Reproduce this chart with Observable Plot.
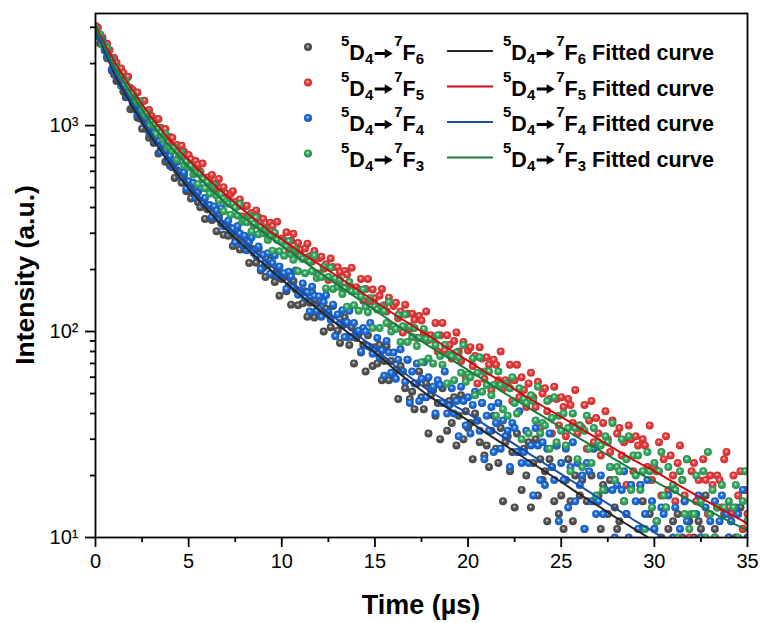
<!DOCTYPE html>
<html><head><meta charset="utf-8">
<script src="https://cdn.jsdelivr.net/npm/d3@7"></script>
<script src="https://cdn.jsdelivr.net/npm/@observablehq/plot@0.6"></script>
<style>body{margin:0;background:#fff} svg{display:block}</style>
</head><body><div id="chart"></div>
<script>
// sampling interval of the decay curves (µs)
const timeStep = 0.125;

// measured decay counts, one value every timeStep from t = 0 to 35 µs
const countsF6 = [2940,
2773,2505,2491,2324,2125,2127,1853,1771, 1646,1649,1621,1465,1373,1386,1200,1234,
1204,1094,1082,966,1040,963,873,898, 824,848,732,756,774,667,688,638,
628,557,606,577,527,576,480,480, 443,472,485,426,401,432,352,392,
394,348,357,307,364,335,295,325, 292,318,260,285,306,250,272,250,
252,215,252,241,216,254,198,204, 184,209,221,188,174,199,149,180,
184,157,167,135,176,160,134,157, 137,157,118,138,155,117,136,121,
124,100,129,121,105,133,95,101, 88,107,117,94,86,105,70,93,
97,79,86,64,96,84,68,84, 70,86,58,72,85,58,72,62,
65,47,68,64,53,73,47,51, 42,56,64,48,42,56,32,49,
52,39,45,30,53,45,33,46, 36,48,28,39,49,30,41,34,
36,24,40,37,29,45,25,28, 22,33,39,27,23,34,15,29,
31,21,26,14,32,26,17,27, 20,29,14,23,30,16,24,19,
21,12,24,22,15,28,13,16, 11,19,24,15,12,20,6,16,
19,11,15,6,20,15,9,16, 11,18,6,13,19,8,14,11,
12,5,15,13,8,18,6,9, 5,11,15,9,7,13,2,11,
12,7,10,3,14,11,6,12, 8,13,4,10,15,6,12,9,
10,4,12,11,7,16,6,8, 5,11,14,8,6,13,2,10,
12,7,10,3,14,11,6,12];

const countsF5 = [3040,
2990,2754,2673,2436,2494,2325,2135,2128, 2017,1849,1893,1801,1675,1724,1522,1488,
1430,1448,1288,1308,1320,1171,1189,1113, 1039,1069,1076,976,927,961,830,879,
873,798,804,721,798,749,683,719, 686,619,672,646,599,654,557,560,
544,576,494,525,551,473,502,468, 433,465,480,427,405,438,362,405,
408,365,376,328,387,359,321,352, 335,294,337,325,296,341,277,283,
277,303,250,276,298,246,269,249, 227,253,267,232,219,246,192,227,
231,202,212,178,226,206,180,205, 194,164,197,189,169,204,158,164,
159,180,141,161,180,140,160,145, 129,149,161,134,125,146,106,133,
138,116,125,99,135,122,103,122, 114,93,119,113,99,125,91,96,
93,110,80,96,110,81,96,86, 74,90,99,80,72,89,59,81,
84,68,76,56,84,74,59,75, 69,52,73,69,58,80,53,58,
56,69,46,58,69,48,60,52, 43,56,63,48,43,57,34,50,
53,41,47,32,54,47,35,48, 43,31,47,44,36,52,32,35,
34,44,27,37,46,29,38,32, 25,36,41,30,26,37,19,32,
34,25,29,18,35,30,21,31, 28,18,30,28,22,35,19,22,
21,29,16,24,31,17,25,20, 15,23,28,19,16,24,10,21,
23,15,19,10,24,19,13,20, 18,10,20,19,14,24,26,14,
13,20,9,16,21,11,17,13];

const countsF4 = [2930,
2725,2671,2581,2336,2175,2147,1877,1880, 1759,1758,1560,1563,1557,1378,1382,1284,
1249,1131,1179,1118,1031,1082,934,917, 925,839,836,743,814,755,682,711,
629,659,668,595,561,592,494,536, 501,527,448,475,497,420,445,412,
411,360,405,387,352,397,324,328, 345,306,316,271,325,299,264,292,
248,273,286,247,233,259,201,236, 217,240,191,215,234,187,207,189,
192,161,195,185,165,198,151,157, 171,146,155,125,165,149,126,148,
118,139,150,124,114,135,95,121, 110,127,94,111,126,94,110,98,
101,80,104,100,85,110,78,82, 93,75,81,61,90,79,63,79,
59,73,82,64,57,73,45,64, 56,70,46,59,71,48,60,52,
54,40,58,55,45,64,40,44, 53,40,46,31,54,46,35,48,
32,44,51,37,33,45,24,39, 33,43,26,36,45,27,37,31,
33,22,36,34,26,41,23,26, 33,23,28,16,34,28,19,29,
18,27,32,22,19,28,12,23, 19,27,14,22,29,15,23,18,
20,11,23,21,15,27,13,15, 20,13,17,8,22,17,10,18,
9,17,21,13,10,18,5,15, 11,18,7,13,19,9,15,11,
12,6,14,13,9,16,8,10, 14,9,11,5,15,12,7,13,
7,13,16,10,8,14,4,12, 9,15,6,12,16,8,13,10,
12,6,14,13,9,17,8,10];

const countsF3 = [2980,
2817,2767,2471,2434,2388,2125,2094,1941, 1914,1761,1730,1570,1649,1541,1413,1433,
1295,1319,1311,1191,1125,1153,998,1043, 1006,911,967,923,855,911,785,779,
754,785,683,713,738,641,668,625, 639,579,587,519,589,550,496,531,
467,499,514,456,433,466,384,428, 417,369,416,400,366,416,341,347,
339,367,306,333,358,297,323,300, 314,278,289,247,302,278,245,274,
233,260,274,237,223,251,196,231, 225,192,229,219,196,234,182,188,
184,206,162,184,204,161,181,165, 178,152,162,132,174,157,134,157,
126,148,160,132,124,145,104,132, 128,104,132,126,110,139,100,106,
103,120,89,106,121,89,106,94, 104,85,93,71,103,92,74,92,
70,86,96,76,69,86,56,77, 76,58,79,75,63,86,57,62,
60,74,49,63,75,51,64,55, 64,49,55,39,64,55,42,56,
39,53,60,45,40,53,30,47, 45,32,49,46,37,54,32,36,
35,46,27,38,48,29,39,33, 40,28,34,21,40,34,24,35,
22,33,39,27,23,34,16,29, 28,17,31,29,22,36,19,22,
21,30,15,24,31,17,25,20, 25,17,21,11,26,21,14,23,
12,21,26,16,14,22,8,18, 17,10,21,19,13,24,11,13,
13,20,8,15,21,10,26,13, 17,10,14,6,18,14,8,15,
7,14,18,10,8,15,21,12];

// fitted curves, read at whole microseconds
const fitTime = [0,1,2,3,4,5,6,7,8,9,10,11,12,13,14,15,16,17,18,19,20,21,22,23,24,25,26,27,28,29,30,31,32,33,34,35];
const fitF6 = [2950,1800,1230,880,650,495,390,314,258,214,179,150,127,108,92,79,66,56,48,42,37,32,28,24.4,21.3,18.6,16.2,14.2,12.4,10.9,9.6,8.5,7.5,6.6,5.8,5.1];
const fitF5 = [3050,2060,1480,1100,850,680,555,460,385,325,280,243,212,185,161,140,122,107,94,82,72,63,56,49,43.5,38.5,34,30,26.5,23.5,21,18.6,16.5,14.7,13.1,11.7];
const fitF4 = [2950,1850,1280,920,680,520,410,330,272,225,188,158,134,114,97,83,69,59,51,45,40,34.8,30.3,26.5,23.2,20.3,17.8,15.6,13.7,12,10.6,9.3,8.2,7.2,6.3,5.6];
const fitF3 = [3000,1950,1400,1030,790,630,510,420,355,303,260,225,194,168,146,127,110,96,84,74,65,57,50,44,38.8,34.2,30.2,26.7,23.6,20.9,18.8,16.8,15,13.4,12,10.8];

// axes
const xTicks = [0,5,10,15,20,25,30,35];
const xMinorTicks = [2.5,7.5,12.5,17.5,22.5,27.5,32.5];
const yTicks = [10,100,1000];
const yTickLabels = ["10¹","10²","10³"];
const yMinorTicks = [20,30,40,50,60,70,80,90,200,300,400,500,600,700,800,900,2000,3000];
const xTitle = "Time (µs)";
const yTitle = "Intensity (a.u.)";

const series = [
  {id:"F6", sub:"6", counts:countsF6, fit:fitF6, dot:"#555555", line:"#262626"},
  {id:"F5", sub:"5", counts:countsF5, fit:fitF5, dot:"#ee3b3b", line:"#cc0a12"},
  {id:"F4", sub:"4", counts:countsF4, fit:fitF4, dot:"#1c6ee0", line:"#1b4ea3"},
  {id:"F3", sub:"3", counts:countsF3, fit:fitF3, dot:"#35ad62", line:"#1b7a3a"}
];

const FONT = "'Liberation Sans', Arial, Helvetica, sans-serif";
const marks = [];
for (const s of series) {
  const pts = s.counts.map((v, i) => ({t: i * timeStep, v}));
  marks.push(Plot.dot(pts, {x:"t", y:"v", r:4, fill:`url(#g${s.id})`, stroke:"none", clip:true}));
}
for (const s of series) {
  const rows = fitTime.map((t, i) => ({t, v: s.fit[i]}));
  marks.push(Plot.line(rows, {x:"t", y:"v", stroke:s.line, strokeWidth:2, curve:"monotone-x", clip:true}));
}
marks.push(
  Plot.frame({stroke:"black", strokeWidth:1.8}),
  Plot.axisX({ticks:xTicks, tickSize:10, tickPadding:6, strokeWidth:1.8, fontSize:20, label:null}),
  Plot.axisX({ticks:xMinorTicks, tickSize:5, strokeWidth:1.8, tickFormat:() => "", label:null}),
  Plot.axisY({ticks:yTicks, tickSize:10, tickPadding:7, strokeWidth:1.8, fontSize:20, label:null,
    tickFormat:d => yTickLabels[yTicks.indexOf(d)]}),
  Plot.axisY({ticks:yMinorTicks, tickSize:5, strokeWidth:1.8, tickFormat:() => "", label:null})
);

const plot = Plot.plot({
  width:764, height:623,
  marginLeft:95, marginRight:17, marginTop:13, marginBottom:86,
  style:{fontFamily:FONT, fontSize:"20px", color:"black", background:"white"},
  x:{domain:[0,35]},
  y:{type:"log", domain:[10,3500]},
  marks
});
document.getElementById("chart").append(plot);

const svg = d3.select(plot);
const defs = svg.insert("defs", ":first-child");
for (const s of series) {
  const c = d3.color(s.dot);
  const g = defs.append("radialGradient").attr("id", `g${s.id}`)
    .attr("cx","50%").attr("cy","50%").attr("r","50%").attr("fx","45%").attr("fy","38%");
  g.append("stop").attr("offset","0%").attr("stop-color", "#ffffff");
  g.append("stop").attr("offset","18%").attr("stop-color", d3.interpolateRgb(s.dot, "#fff")(0.45));
  g.append("stop").attr("offset","45%").attr("stop-color", s.dot);
  g.append("stop").attr("offset","100%").attr("stop-color", c.darker(0.6).formatHex());
}

// axis titles
svg.append("text").attr("x", 421).attr("y", 614).attr("text-anchor","middle")
  .attr("font-family", FONT).attr("font-weight","bold").attr("font-size", 27).text(xTitle);
svg.append("text").attr("transform","translate(34,275) rotate(-90)").attr("text-anchor","middle")
  .attr("font-family", FONT).attr("font-weight","bold").attr("font-size", 26.5).text(yTitle);

// legend
function rich(sel, x, y, parts) {
  const t = sel.append("text").attr("x", x).attr("y", y).attr("font-family", FONT)
    .attr("text-anchor", "start").attr("font-weight","bold").attr("font-size", 21.5).attr("fill","black");
  let cur = 0;
  for (const [txt, kind] of parts) {
    const target = kind === "sup" ? -14 : kind === "sub" ? 4 : 0;
    const sp = t.append("tspan").attr("dy", target - cur).text(txt);
    if (kind) sp.attr("font-size", 15);
    cur = target;
  }
  return t.node().getComputedTextLength();
}
function label(sel, x, y, sub, extra) {
  const w1 = rich(sel, x, y, [["5","sup"],["D",""],["4","sub"]]);
  const ax = x + w1 + 1.5, ay = y - 6.5;
  sel.append("path")
    .attr("d", `M${ax},${ay-1.6}H${ax+10}V${ay-4.8}L${ax+18},${ay}L${ax+10},${ay+4.8}V${ay+1.6}H${ax}Z`)
    .attr("fill", "black");
  const parts = [["7","sup"],["F",""],[sub,"sub"]];
  if (extra) parts.push([extra, ""]);
  rich(sel, ax + 19.5, y, parts);
}
const legendY = [60, 95.5, 131, 166.5];
series.forEach((s, i) => {
  const y = legendY[i];
  svg.append("circle").attr("cx", 308).attr("cy", y - 13).attr("r", 4).attr("fill", `url(#g${s.id})`);
  label(svg, 341, y, s.sub, null);
  svg.append("line").attr("x1", 447).attr("x2", 493).attr("y1", y - 9).attr("y2", y - 9)
    .attr("stroke", s.line).attr("stroke-width", 2.2);
  label(svg, 503, y, s.sub, " Fitted curve");
});
</script>
</body></html>
